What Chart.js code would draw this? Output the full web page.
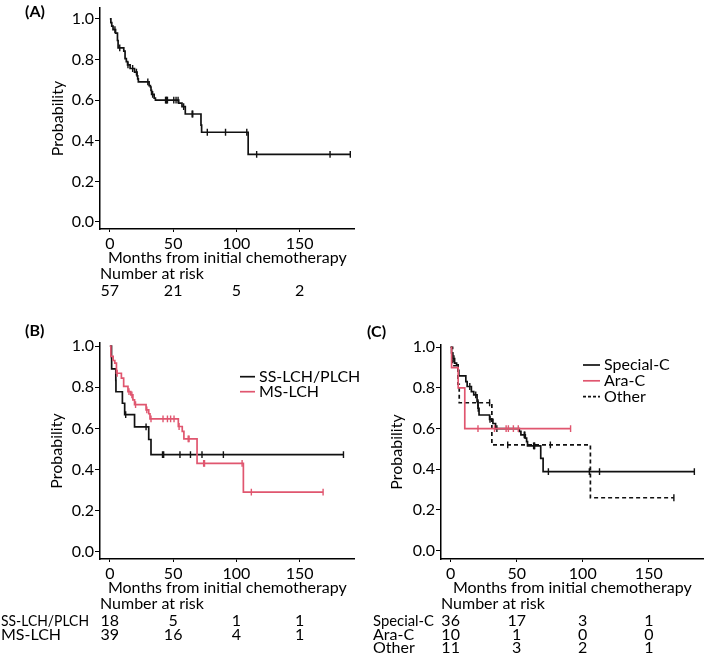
<!DOCTYPE html>
<html><head><meta charset="utf-8">
<script src="https://cdn.jsdelivr.net/npm/chart.js@4.4.1/dist/chart.umd.min.js"></script>
<style>
html,body{margin:0;padding:0;background:#fff;}
body{width:709px;height:658px;position:relative;overflow:hidden;}
canvas{position:absolute;}
</style></head><body>
<canvas id="cA" width="360" height="310" style="left:0px;top:0px;width:360px;height:310px"></canvas>
<canvas id="cB" width="360" height="336" style="left:0px;top:322px;width:360px;height:336px"></canvas>
<canvas id="cC" width="359" height="336" style="left:350px;top:322px;width:359px;height:336px"></canvas>
<script>
// ---------- tick labels ----------
const xTicks = [0, 50, 100, 150];
const yTicks = [0, 0.2, 0.4, 0.6, 0.8, 1.0];

// ---------- Panel A: all patients ----------
const aTimes = [0, 0.8, 1.5, 2.5, 4.5, 6, 6.5, 11, 12, 13, 14, 16, 19.5, 21.5, 22, 22.5, 31, 32, 32.5, 33, 35, 36, 54.4, 57, 59.6, 72, 72.5, 109.3, 190];
const aSurv  = [1, 0.982, 0.965, 0.947, 0.93, 0.894, 0.858, 0.842, 0.805, 0.79, 0.774, 0.756, 0.738, 0.72, 0.705, 0.69, 0.672, 0.665, 0.648, 0.629, 0.61, 0.6, 0.585, 0.568, 0.532, 0.477, 0.442, 0.333, 0.333];
const aCensor = [4, 7.8, 14.3, 18, 21, 30, 33.8, 44, 44.5, 45, 45.5, 50.5, 52.3, 53.9, 58.3, 65, 65.5, 77, 91.4, 108.2, 116, 174, 190];
const aRisk = [57, 21, 5, 2];

// ---------- Panel B ----------
const bSsTimes = [0, 1.3, 1.4, 4.7, 4.8, 9.9, 11.7, 19.5, 30.7, 32.5, 184.6];
const bSsSurv  = [1, 0.944, 0.889, 0.833, 0.778, 0.722, 0.667, 0.607, 0.546, 0.472, 0.472];
const bSsCensor = [12.5, 28.6, 41.6, 42.5, 55.4, 63.7, 72.8, 89.7, 184.6];
const bMsTimes = [0, 0.8, 2.6, 3.9, 5.2, 9.1, 10.9, 14.3, 16.5, 18.2, 19.5, 28.6, 30.7, 31.7, 54.1, 57.2, 58.5, 68.9, 105.5, 168.5];
const bMsSurv  = [1, 0.95, 0.93, 0.917, 0.868, 0.844, 0.804, 0.779, 0.763, 0.739, 0.715, 0.69, 0.671, 0.646, 0.609, 0.585, 0.549, 0.43, 0.29, 0.29];
const bMsCensor = [5.8, 15.1, 17.4, 20.3, 29.2, 32.5, 42, 45.5, 48, 50.7, 54.7, 61.9, 62.6, 74.1, 74.8, 104.5, 111.8, 168.5];
const bRiskSs = [18, 5, 1, 1];
const bRiskMs = [39, 16, 4, 1];

// ---------- Panel C ----------
const cSpTimes = [0, 0.7, 1.5, 3, 4.5, 5.7, 6.2, 11.5, 12.5, 15.7, 17.5, 20, 20.7, 21.5, 29.5, 32, 34, 52, 53.2, 56.5, 57.5, 58.2, 68.2, 70, 184.5];
const cSpSurv  = [1, 0.972, 0.944, 0.922, 0.913, 0.886, 0.859, 0.831, 0.807, 0.782, 0.766, 0.733, 0.7, 0.667, 0.645, 0.625, 0.6, 0.586, 0.569, 0.553, 0.536, 0.515, 0.454, 0.389, 0.389];
const cSpCensor = [2.5, 14.5, 19, 20.9, 29.8, 35, 55.7, 56.2, 62.8, 63.2, 63.6, 74, 105, 112.7, 184.5];
const cAraTimes = [0, 0.7, 5.7, 10.7, 90.8];
const cAraSurv  = [1, 0.9, 0.8, 0.6, 0.6];
const cAraCensor = [20.7, 33.2, 42, 43.7, 47.5, 51.2, 90.8];
const cOthTimes = [0, 1.5, 5.5, 6.5, 31.2, 105.8, 169];
const cOthSurv  = [1, 0.909, 0.818, 0.727, 0.52, 0.26, 0.26];
const cOthCensor = [20.7, 29.5, 43.2, 75.5, 169];
const cRiskSp = [36, 17, 3, 1];
const cRiskAra = [10, 1, 0, 0];
const cRiskOth = [11, 3, 2, 1];

// ---------- helpers ----------
const FONT = "Lato, 'Open Sans', sans-serif";
const FS = 16;
const BLACK = '#111111';
const RED = '#E0566F';

function survAt(times, surv, t) {
  let v = surv[0];
  for (let i = 0; i < times.length; i++) { if (times[i] <= t) v = surv[i]; }
  return v;
}
function curve(times, surv, color, dash, order) {
  return {
    type: 'line',
    data: times.map((t, i) => ({ x: t, y: surv[i] })),
    borderColor: color, borderWidth: 1.7, borderDash: dash || [],
    stepped: true, pointRadius: 0, fill: false, order: order, tension: 0
  };
}
function marks(times, surv, censor, color, order) {
  return {
    type: 'scatter',
    data: censor.map(t => ({ x: t, y: survAt(times, surv, t) })),
    borderColor: color, backgroundColor: color,
    pointStyle: 'line', rotation: 90, pointRadius: 3.4, borderWidth: 1.4,
    showLine: false, order: order
  };
}

function makePanel(id, s) {
  const extras = {
    id: 'extras',
    afterDraw(chart) {
      const ctx = chart.ctx, xs = chart.scales.x, ca = chart.chartArea;
      ctx.save();
      ctx.fillStyle = '#000';
      ctx.textBaseline = 'middle';
      ctx.textAlign = 'left';
      ctx.font = 'bold 16px ' + FONT;
      ctx.fillText(s.tag, s.tagX, s.tagY);
      ctx.font = FS + 'px ' + FONT;
      (s.legend || []).forEach((it, i) => {
        const y = s.legendY + i * s.legendGap;
        ctx.strokeStyle = it.color; ctx.lineWidth = 1.7; ctx.setLineDash(it.dash || []);
        ctx.beginPath(); ctx.moveTo(s.legendX, y); ctx.lineTo(s.legendX + s.legendLen, y); ctx.stroke();
        ctx.setLineDash([]);
        ctx.textAlign = 'left';
        ctx.fillText(it.text, s.legendX + s.legendLen + 4, y);
      });
      ctx.textAlign = 'left';
      ctx.fillText('Number at risk', ca.left, ca.bottom + 44.5);
      s.risk.forEach((row, r) => {
        const y = ca.bottom + 62 + r * s.riskGap;
        if (row.label) {
          ctx.textAlign = 'left';
          if (row.maxW) ctx.fillText(row.label, s.riskLabelX, y, row.maxW);
          else ctx.fillText(row.label, s.riskLabelX, y);
        }
        ctx.textAlign = 'center';
        row.values.forEach((v, k) => ctx.fillText(String(v), xs.getPixelForValue(xTicks[k]), y));
      });
      ctx.restore();
    }
  };
  const zeroPad = sc => { sc.paddingLeft = 0; sc.paddingRight = 0; sc.paddingTop = 0; sc.paddingBottom = 0; };
  new Chart(document.getElementById(id), {
    type: 'line',
    data: { datasets: s.datasets },
    options: {
      responsive: false, animation: false, devicePixelRatio: 1,
      layout: { padding: s.padding },
      plugins: { legend: { display: false }, tooltip: { enabled: false } },
      scales: {
        x: {
          type: 'linear', min: s.xMin, max: s.xMax,
          afterBuildTicks: sc => { sc.ticks = xTicks.map(v => ({ value: v })); },
          afterFit: sc => { sc.height = 38; zeroPad(sc); },
          ticks: { color: '#000', font: { family: FONT, size: FS }, padding: 2, maxRotation: 0, autoSkip: false, callback: v => String(v) },
          grid: { display: true, drawOnChartArea: false, drawTicks: true, tickLength: 3, color: '#000', lineWidth: 1 },
          border: { display: true, color: '#000', width: 1.5 },
          title: { display: true, text: 'Months from initial chemotherapy', color: '#000', font: { family: FONT, size: FS }, padding: { top: 0, bottom: 0 } }
        },
        y: {
          type: 'linear', min: s.yMin, max: s.yMax,
          afterBuildTicks: sc => { sc.ticks = yTicks.map(v => ({ value: v })); },
          afterFit: sc => { sc.width = s.yWidth; zeroPad(sc); },
          ticks: { color: '#000', font: { family: FONT, size: FS }, padding: 1, autoSkip: false, callback: v => Number(v).toFixed(1) },
          grid: { display: true, drawOnChartArea: false, drawTicks: true, tickLength: 5, color: '#000', lineWidth: 1 },
          border: { display: true, color: '#000', width: 1.5 },
          title: { display: true, text: 'Probability', color: '#000', font: { family: FONT, size: FS }, padding: { top: s.yTitlePad, bottom: 0 } }
        }
      }
    },
    plugins: [extras]
  });
}

makePanel('cA', {
  tag: '(A)', tagX: 25, tagY: 12,
  padding: { left: 0, top: 8, right: 2, bottom: 43 },
  xMin: -7.8, xMax: 193.4, yMin: -0.0345, yMax: 1.054,
  yWidth: 100, yTitlePad: 48,
  datasets: [
    curve(aTimes, aSurv, BLACK, null, 1),
    marks(aTimes, aSurv, aCensor, BLACK, 1)
  ],
  risk: [{ label: '', values: aRisk }], riskGap: 14, riskLabelX: 1
});

makePanel('cB', {
  tag: '(B)', tagX: 25, tagY: 9,
  padding: { left: 0, top: 21, right: 2, bottom: 61 },
  xMin: -7.8, xMax: 193.4, yMin: -0.035, yMax: 1.015,
  yWidth: 100, yTitlePad: 47,
  datasets: [
    curve(bMsTimes, bMsSurv, RED, null, 0),
    marks(bMsTimes, bMsSurv, bMsCensor, RED, 0),
    curve(bSsTimes, bSsSurv, BLACK, null, 1),
    marks(bSsTimes, bSsSurv, bSsCensor, BLACK, 1)
  ],
  legend: [{ text: 'SS-LCH/PLCH', color: BLACK }, { text: 'MS-LCH', color: RED }],
  legendX: 240, legendLen: 15, legendY: 54.7, legendGap: 15,
  risk: [{ label: 'SS-LCH/PLCH', values: bRiskSs, maxW: 88 }, { label: 'MS-LCH', values: bRiskMs }],
  riskGap: 14, riskLabelX: 1
});

makePanel('cC', {
  tag: '(C)', tagX: 17, tagY: 10,
  padding: { left: 0, top: 23, right: 3, bottom: 61 },
  xMin: -7.3, xMax: 191.5, yMin: -0.041, yMax: 1.011,
  yWidth: 91, yTitlePad: 37,
  datasets: [
    curve(cAraTimes, cAraSurv, RED, null, 0),
    marks(cAraTimes, cAraSurv, cAraCensor, RED, 0),
    curve(cSpTimes, cSpSurv, BLACK, null, 1),
    marks(cSpTimes, cSpSurv, cSpCensor, BLACK, 1),
    curve(cOthTimes, cOthSurv, BLACK, [4, 3], 2),
    marks(cOthTimes, cOthSurv, cOthCensor, BLACK, 2)
  ],
  legend: [{ text: 'Special-C', color: BLACK }, { text: 'Ara-C', color: RED }, { text: 'Other', color: BLACK, dash: [3, 2] }],
  legendX: 233, legendLen: 17, legendY: 43, legendGap: 15.8,
  risk: [{ label: 'Special-C', values: cRiskSp, maxW: 61 }, { label: 'Ara-C', values: cRiskAra }, { label: 'Other', values: cRiskOth }],
  riskGap: 13.5, riskLabelX: 23
});
</script>
</body></html>
